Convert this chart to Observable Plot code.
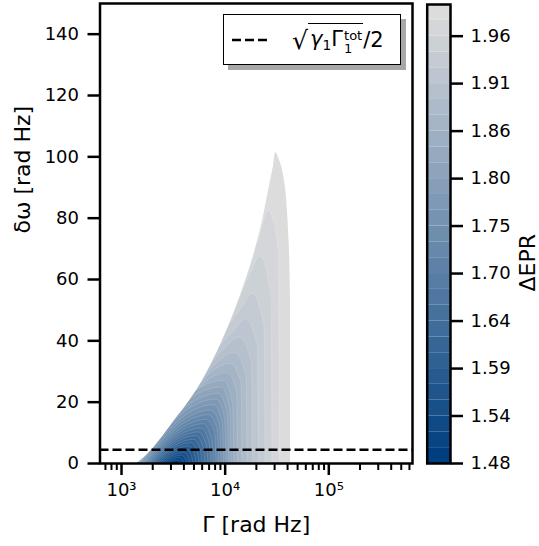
<!DOCTYPE html>
<html>
<head>
<meta charset="utf-8">
<script src="https://cdn.jsdelivr.net/npm/d3@7"></script>
<script src="https://cdn.jsdelivr.net/npm/@observablehq/plot@0.6"></script>
<style>
  html, body { margin: 0; padding: 0; background: #fff; }
  #wrap { position: relative; width: 539px; height: 546px; overflow: hidden; font-family: "DejaVu Sans", sans-serif; }
  #main { position: absolute; left: 0; top: 0; }
  #cbar { position: absolute; left: 420px; top: 0; }
  #legend { position: absolute; left: 223px; top: 14px; width: 178px; height: 51px; box-sizing: border-box;
            border: 1.5px solid #000; background: #fff; box-shadow: 5px 5px 0 #a8a8a8;
            display: flex; align-items: center; font-size: 21px; color: #000; white-space: nowrap; }
  #legend .root { font-size: 1.2em; margin-left: 6px; position: relative; top: 1px; }
  #legend .rad { border-top: 1.5px solid #000; padding: 3px 1px 0 2px; }
  #legend sub { font-size: 0.66em; vertical-align: -0.3em; }
  #legend .ss { display: inline-flex; flex-direction: column; font-size: 0.62em; line-height: 1.05; vertical-align: 0.5em; margin-left: 1px; }
</style>
</head>
<body>
<div id="wrap">
  <div id="main"></div>
  <div id="cbar"></div>
  <div id="legend">
    <svg width="62" height="20"><line x1="8" x2="45" y1="10" y2="10" stroke="#000" stroke-width="2.5" stroke-dasharray="9,4"></line></svg>
    <span class="root">√</span><span class="rad"><i>γ</i><sub>1</sub>Γ<span class="ss"><span>tot</span><span>1</span></span></span><span>/2</span>
  </div>
</div>
<script>
// ---------- data ----------
const xLabel = "Γ [rad Hz]";
const yLabel = "δω [rad Hz]";
const cbarLabel = "ΔEPR";

const xDomain = [620, 6.42e5];
const yDomain = [0, 150];
const yTicks = [0, 20, 40, 60, 80, 100, 120, 140];
const xMajorTicks = [1e3, 1e4, 1e5];
const xTickLabels = ["10³", "10⁴", "10⁵"];
const xMinorTicks = [700, 800, 900, 2000, 3000, 4000, 5000, 6000, 7000, 8000, 9000,
  2e4, 3e4, 4e4, 5e4, 6e4, 7e4, 8e4, 9e4, 2e5, 3e5, 4e5, 5e5, 6e5];

// sqrt(gamma1 * Gamma1_tot)/2 level
const thresholdOmega = [4.47];

// contour levels of ΔEPR (29 filled bands)
const levels = [1.482, 1.4998, 1.5176, 1.5354, 1.5532, 1.5710, 1.5887, 1.6065, 1.6243, 1.6421,
  1.6599, 1.6777, 1.6955, 1.7133, 1.7311, 1.7489, 1.7666, 1.7844, 1.8022, 1.8200,
  1.8378, 1.8556, 1.8734, 1.8912, 1.9090, 1.9268, 1.9445, 1.9623, 1.9801, 1.9979];
const colorTickValues = [1.482, 1.5354, 1.5887, 1.6421, 1.6955, 1.7489, 1.8022, 1.8556, 1.9090, 1.9623];
const colorTickLabels = ["1.48", "1.54", "1.59", "1.64", "1.70", "1.75", "1.80", "1.86", "1.91", "1.96"];
const colorRange = ["#003f7f", "#dcdcdd"];

// outline of the computed region (upper edge), Γ and δω
const boundaryGamma = [1396, 1743, 2129, 2542, 3246, 4530, 6046, 7634, 9428, 11390, 13460, 15720,
  18160, 20520, 22930, 25060, 27390, 29270, 30600, 33450, 36560, 39070, 40850, 42230, 42710];
const boundaryOmega = [0, 2.6, 5.86, 9.12, 14.0, 20.5, 27.0, 33.5, 40.1, 46.6, 53.1, 59.6,
  66.1, 72.6, 79.1, 85.6, 92.2, 97.0, 101.3, 98.9, 94.0, 86.6, 76.0, 63.0, 53.1];

// contour lines (level index; points: foot, leg, leg, peak, shoulder, foot)
const archLevel = [28, 27, 26, 25, 24, 23, 22, 21, 20, 19, 18, 17, 16, 15, 14, 13, 12, 11, 10, 9, 8, 7, 6, 5, 4, 3, 2, 1];
const archGamma = [
  [1396, 16430, 21690, 26200, 33080, 33820],
  [1396, 13460, 17560, 21930, 28000, 28630],
  [1396, 11020, 14700, 18360, 23970, 24510],
  [1396, 9018, 12450, 15890, 20750, 21210],
  [1396, 7550, 10540, 13760, 18160, 18570],
  [1396, 6608, 9221, 12310, 16070, 16430],
  [1396, 5783, 8252, 11260, 14380, 14700],
  [1396, 5175, 7550, 10420, 13010, 13300],
  [1459, 2347, 4560, 9748, 11910, 12310],
  [1492, 2352, 4391, 9221, 11140, 11520],
  [1525, 2357, 4323, 8723, 10540, 10890],
  [1559, 2365, 4200, 8252, 9967, 10300],
  [1612, 2392, 4144, 7806, 9428, 9748],
  [1667, 2418, 4071, 7384, 8919, 9221],
  [1723, 2445, 3991, 6985, 8437, 8723],
  [1782, 2473, 3929, 6608, 7981, 8252],
  [1842, 2500, 3834, 6251, 7466, 7806],
  [1905, 2528, 3758, 5913, 7063, 7384],
  [1969, 2556, 3684, 5594, 6608, 6908],
  [2036, 2585, 3611, 5292, 6182, 6463],
  [2105, 2614, 3540, 5006, 5783, 6046],
  [2176, 2643, 3470, 4735, 5411, 5656],
  [2275, 2693, 3416, 4480, 5062, 5292],
  [2378, 2748, 3363, 4238, 4735, 4951],
  [2486, 2803, 3319, 4009, 4430, 4631],
  [2628, 2879, 3275, 3792, 4144, 4333],
  [2779, 2970, 3260, 3627, 3877, 4053],
  [2970, 3088, 3260, 3470, 3668, 3792]
];
const archOmega = [
  [0, 61.5, 74.2, 82.4, 69.4, 0],
  [0, 52.8, 61.9, 67.4, 53.9, 0],
  [0, 45.3, 51.1, 55.3, 44.2, 0],
  [0, 38.4, 43.6, 47.1, 37.7, 0],
  [0, 32.9, 38.4, 41.0, 32.8, 0],
  [0, 29.3, 33.9, 36.0, 28.8, 0],
  [0, 26.1, 30.9, 32.5, 26.0, 0],
  [0, 23.4, 28.0, 29.5, 23.6, 0],
  [0, 10.8, 22.1, 27.0, 19.4, 0],
  [0, 9.92, 20.3, 24.8, 17.9, 0],
  [0, 9.08, 18.6, 22.7, 16.3, 0],
  [0, 8.32, 17.1, 20.8, 15.0, 0],
  [0, 7.6, 15.6, 19.0, 13.7, 0],
  [0, 6.92, 14.2, 17.3, 12.5, 0],
  [0, 6.28, 12.9, 15.7, 11.3, 0],
  [0, 5.68, 11.6, 14.2, 10.2, 0],
  [0, 5.12, 10.5, 12.8, 7.68, 0],
  [0, 4.56, 9.35, 11.4, 6.84, 0],
  [0, 4.04, 8.28, 10.1, 6.06, 0],
  [0, 3.56, 7.30, 8.9, 5.34, 0],
  [0, 3.08, 6.31, 7.7, 4.62, 0],
  [0, 2.64, 5.41, 6.6, 3.96, 0],
  [0, 2.2, 4.51, 5.5, 3.3, 0],
  [0, 1.8, 3.69, 4.5, 2.7, 0],
  [0, 1.4, 2.87, 3.5, 2.1, 0],
  [0, 1.04, 2.13, 2.6, 1.56, 0],
  [0, 0.70, 1.435, 1.75, 1.05, 0],
  [0, 0.38, 0.78, 0.95, 0.57, 0]
];

// ---------- build tables ----------
const bands = levels.slice(0, -1).map((lo, i) => ({lo, hi: levels[i + 1], mid: (lo + levels[i + 1]) / 2}));
const bandMid = bands.map(b => b.mid);
const archRows = archLevel.flatMap((k, i) => archGamma[i].map((g, j) => ({k, g, w: archOmega[i][j]})));
const boundaryRows = boundaryGamma.map((g, i) => ({g, w: boundaryOmega[i]}));
const lastG = boundaryGamma[boundaryGamma.length - 1];

const colorScale = {type: "linear", domain: [bandMid[0], bandMid[bandMid.length - 1]], range: colorRange, interpolate: "rgb"};
const font = "'DejaVu Sans', sans-serif";

const main = Plot.plot({
  width: 420, height: 546,
  marginLeft: 99.5, marginRight: 8, marginTop: 3, marginBottom: 83,
  x: {type: "log", domain: xDomain},
  y: {domain: yDomain},
  color: colorScale,
  style: {fontFamily: font, fontSize: "18px", color: "#000", background: "#fff"},
  marks: [
    Plot.rect([{a: boundaryGamma[0], b: lastG, lo: yDomain[0], hi: yDomain[1], v: bandMid[bandMid.length - 1]}],
      {x1: "a", x2: "b", y1: "lo", y2: "hi", fill: "v"}),
    Plot.areaY(archRows, {x: "g", y1: 0, y2: "w", z: "k", fill: d => bandMid[d.k - 1], curve: "monotone-x",
      stroke: "#fff", strokeOpacity: 0.28, strokeWidth: 0.5}),
    Plot.areaY(boundaryRows, {x: "g", y1: "w", y2: () => yDomain[1], fill: "#fff", curve: "monotone-x"}),
    Plot.rect([{a: xDomain[0], b: boundaryGamma[0]}, {a: lastG, b: xDomain[1]}],
      {x1: "a", x2: "b", y1: () => yDomain[0], y2: () => yDomain[1], fill: "#fff"}),
    Plot.ruleY(thresholdOmega, {stroke: "#000", strokeWidth: 2.5, strokeDasharray: "9,4"}),
    Plot.axisY({ticks: yTicks, tickSize: 12, tickPadding: 9, strokeWidth: 2.5, fontSize: 18, label: null}),
    Plot.axisX({ticks: xMajorTicks, tickSize: 12, tickPadding: 8, strokeWidth: 2.5, fontSize: 18, label: null,
      tickFormat: d => xTickLabels[xMajorTicks.indexOf(d)]}),
    Plot.axisX({ticks: xMinorTicks, tickSize: 7, strokeWidth: 2, label: null, tickFormat: () => ""}),
    Plot.frame({stroke: "#000", strokeWidth: 2.5}),
    Plot.text([yLabel], {frameAnchor: "left", rotate: -90, dx: -77, fontSize: 22, lineAnchor: "middle"}),
    Plot.text([xLabel], {frameAnchor: "bottom", dy: 61, fontSize: 22, lineAnchor: "middle"})
  ]
});
document.getElementById("main").append(main);

const cbar = Plot.plot({
  width: 119, height: 546,
  marginLeft: 6.7, marginRight: 89, marginTop: 4, marginBottom: 83,
  x: {domain: [0, 1], axis: null},
  y: {domain: [levels[0], levels[levels.length - 1]]},
  color: colorScale,
  style: {fontFamily: font, fontSize: "18px", color: "#000", background: "#fff"},
  marks: [
    Plot.rect(bands, {x1: () => 0, x2: () => 1, y1: "lo", y2: "hi", fill: "mid"}),
    Plot.frame({stroke: "#000", strokeWidth: 2.5}),
    Plot.axisY({anchor: "right", ticks: colorTickValues, tickSize: 12, tickPadding: 8, strokeWidth: 2.5, fontSize: 18, label: null,
      tickFormat: d => colorTickLabels[colorTickValues.indexOf(d)]}),
    Plot.text([cbarLabel], {frameAnchor: "right", rotate: -90, dx: 77, fontSize: 22, lineAnchor: "middle"})
  ]
});
document.getElementById("cbar").append(cbar);
</script>
</body>
</html>
